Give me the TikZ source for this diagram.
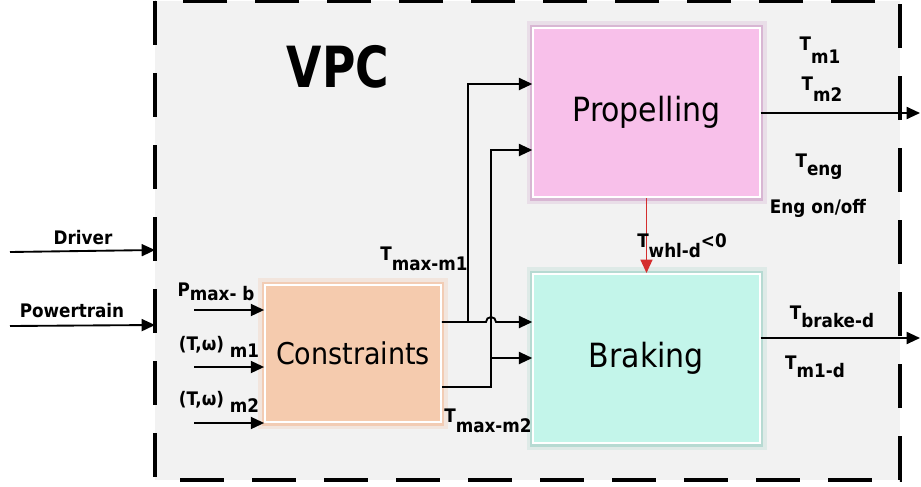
\documentclass[tikz,border=0pt]{standalone}
\usepackage{fontspec}
\setmainfont{DejaVu Sans Condensed}
\usepackage{xcolor}
\usepackage{tikz}
\usetikzlibrary{arrows.meta, positioning, calc}
\definecolor{vpcgray}{HTML}{F2F2F2}
\definecolor{propfill}{HTML}{F8C0EA}
\definecolor{propglow}{HTML}{C890C0}
\definecolor{brakefill}{HTML}{C3F5EA}
\definecolor{brakeglow}{HTML}{90CCBF}
\definecolor{consfill}{HTML}{F5CBAE}
\definecolor{consglow}{HTML}{F2B48C}
\definecolor{whlred}{HTML}{D42E2E}
\newcommand{\lsub}[2][0.9ex]{\raisebox{-#1}{#2}}
\newcommand{\lsup}[2][0ex]{\raisebox{#1}{#2}}
\tikzset{
  block/.style={draw=white, line width=1.3pt, fill=#1fill,
    preaction={draw=#1glow, line width=10pt, opacity=0.2},
    preaction={draw=#1glow, line width=5pt, opacity=0.5},
    font=\fontsize{25}{28}\selectfont},
  lbl/.style={font=\bfseries\fontsize{14}{16}\selectfont, inner sep=1pt},
  sig/.style={-{Triangle[length=10pt, width=9pt]}, line width=1.4pt}
}

\begin{document}
\begin{tikzpicture}[x=0.75pt, y=-0.75pt]
\useasboundingbox (0,0) rectangle (921,486);
\draw[fill=vpcgray, line width=2.3pt, dash pattern=on 33pt off 21pt]
  (155,1) rectangle (900,480);
\node[font=\bfseries\fontsize{38}{42}\selectfont] (vpc) at (338,67) {\scalebox{1}[1.12]{VPC}};
% blocks
\node[block=prop, minimum width=170pt, minimum height=127pt] (prop) at (646.5,112.5) {Propelling};
\node[block=brake, minimum width=170pt, minimum height=127pt] (brake) at (646.5,358.5) {Braking};
\node[block=cons, minimum width=132pt, minimum height=103pt, font=\fontsize{22.5}{25}\selectfont] (cons) at (353,353.5) {Constraints};
% inputs from outside
\coordinate (drvin) at (10,252);
\coordinate (drvend) at (155,250);
\coordinate (ptin) at (10,326);
\coordinate (ptend) at (155,325);
\draw[sig] (drvin) -- (drvend);
\draw[sig] (ptin) -- (ptend);
\node[lbl] (drvlbl) at (83,238) {Driver};
\node[lbl] (ptlbl) at (72,311) {Powertrain};
% inputs to constraints
\coordinate (pin) at (194,310);
\coordinate (m1in) at (194,367);
\coordinate (m2in) at (194,423);
\draw[sig] (pin) -- (cons.west |- pin);
\draw[sig] (m1in) -- (cons.west |- m1in);
\draw[sig] (m2in) -- (cons.west |- m2in);
\node[lbl] (plbl) at (216,292) {P\lsub[0.45ex]{max- b}};
\node[lbl] (m1lbl) at (219,347) {(T,ω) \lsub[0.7ex]{m1}};
\node[lbl] (m2lbl) at (219,402) {(T,ω) \lsub[0.7ex]{m2}};
% constraint outputs
\coordinate (j1) at (468,322);
\coordinate (j2) at (491,387);
\coordinate (j3) at (491,358);
\draw[sig] (cons.east |- j1) -- (486,322) arc[start angle=180, end angle=360, radius=5]
  -- (brake.west |- j1);
\draw[sig] (j1) |- (prop.west |- 0,84);
\draw[sig] (cons.east |- j2) -- (j2) |- (prop.west |- 0,150);
\draw[sig] (j3) -- (brake.west |- j3);
\node[lbl] (tm1lbl) at (424,259) {T\lsub[1ex]{max-m1}};
\node[lbl] (tm2lbl) at (488,421) {T\lsub[1ex]{max-m2}};
% propelling to braking
\draw[sig, draw=whlred, fill=whlred, line width=1pt] (prop.south) -- (brake.north);
\node[lbl] (whllbl) at (682,246) {T\lsub[1ex]{whl-d}\lsup{<0}};
% outputs
\coordinate (propout) at (920,113);
\coordinate (brakeout) at (920,338);
\draw[sig] (prop.east |- propout) -- (propout);
\draw[sig] (brake.east |- brakeout) -- (brakeout);
\node[lbl] (om1) at (820,50) {T\lsub[1.25ex]{m1}};
\node[lbl] (om2) at (822,89) {T\lsub[1.1ex]{m2}};
\node[lbl] (oeng) at (819,167) {T\lsub[0.8ex]{eng}};
\node[lbl] (oonoff) at (818,208) {Eng on/off};
\node[lbl] (obrk) at (832,317) {T\lsub[0.8ex]{brake-d}};
\node[lbl] (om1d) at (815,367) {T\lsub[0.8ex]{m1-d}};
\end{tikzpicture}
\end{document}
